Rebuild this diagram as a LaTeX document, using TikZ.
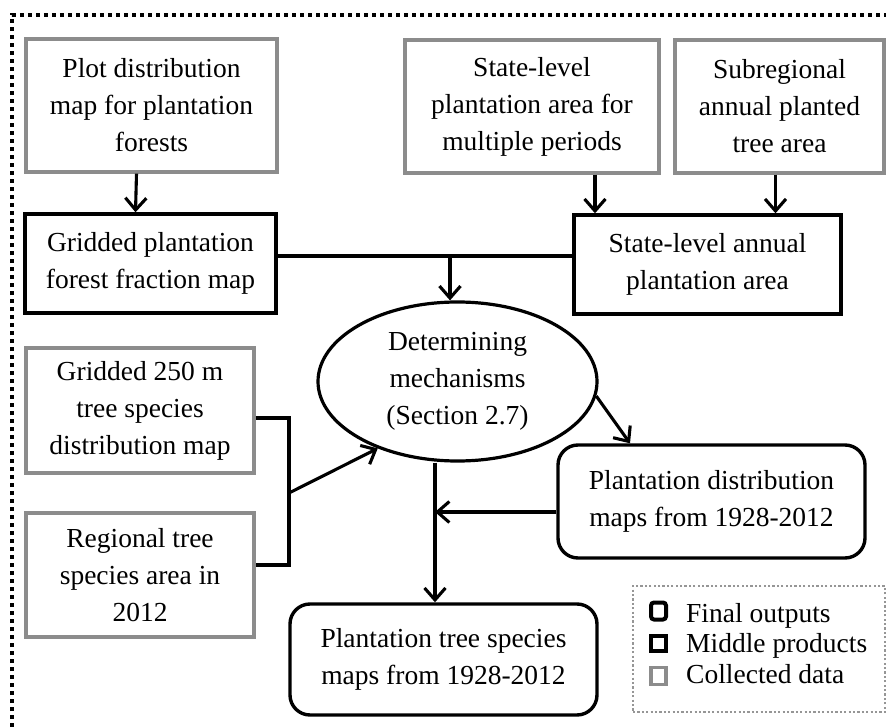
\documentclass[tikz,border=0pt]{standalone}
\usepackage{fontspec}
\setmainfont{Liberation Serif}
\usetikzlibrary{arrows.meta,shapes.geometric,calc}
\definecolor{dgray}{RGB}{140,140,140}
\definecolor{lgray}{RGB}{150,150,150}
\begin{document}
\begin{tikzpicture}[x=1pt,y=-1pt,
  txt/.style={font=\fontsize{27.5}{37}\selectfont, align=center, inner sep=0pt},
  coll/.style={txt, draw=dgray, line width=3.2pt, rectangle},
  mid/.style={txt, draw=black, line width=3.4pt, rectangle},
  fin/.style={txt, draw=black, line width=3.4pt, rectangle, rounded corners=20pt},
  conn/.style={line width=3.1pt, draw=black},
  arr/.style={conn, -{Straight Barb[length=12pt,width=21pt,line width=3.1pt]}},
  legtxt/.style={font=\fontsize{27.5}{32}\selectfont, inner sep=0pt, anchor=base west},
]
\useasboundingbox (0,0) rectangle (886,727);

% outer dotted frame
\coordinate (fbl) at (12,727);
\coordinate (ftl) at (12,15);
\coordinate (ftr) at (886,15);
\draw[line width=4pt, dash pattern=on 4pt off 4pt] (fbl) -- (ftl) -- (ftr);

% collected data
\node[coll, minimum width=251pt, minimum height=133pt] (plot) at (151.5,105.5)
  {Plot distribution\\map for plantation\\forests};
\node[coll, minimum width=254pt, minimum height=133pt] (statep) at (532,106.5)
  {State-level\\plantation area for\\multiple periods};
\node[coll, minimum width=209pt, minimum height=133pt] (subreg) at (779.5,106.5)
  {Subregional\\annual planted\\tree area};
\node[coll, minimum width=228pt, minimum height=125pt] (g250) at (140,410.5)
  {Gridded 250 m\\tree species\\distribution map};
\node[coll, minimum width=228pt, minimum height=124pt] (regional) at (140,575)
  {Regional tree\\species area in\\2012};

% middle products
\node[mid, minimum width=251pt, minimum height=99pt] (gridded) at (150.5,263.5)
  {Gridded plantation\\forest fraction map};
\node[mid, minimum width=267pt, minimum height=99pt] (statea) at (707.5,264.5)
  {State-level annual\\plantation area};

% mechanism
\node[txt, draw, ellipse, line width=3.2pt, minimum width=279pt, minimum height=159pt] (mech) at (457.5,381.5)
  {Determining\\mechanisms\\(Section 2.7)};

% final outputs
\node[fin, minimum width=307pt, minimum height=113pt] (pdist) at (711.5,501.5)
  {Plantation distribution\\maps from 1928-2012};
\node[fin, minimum width=307pt, minimum height=111pt] (tplant) at (443.5,659.5)
  {Plantation tree species\\maps from 1928-2012};

% connectors
\draw[arr] ([xshift=-15pt]plot.south) -- ([xshift=-15pt]gridded.north);
\draw[arr] ([xshift=63pt]statep.south) -- ([xshift=63pt]statep.south |- statea.north);
\draw[arr] ([xshift=-4pt]subreg.south) -- ([xshift=-4pt]subreg.south |- statea.north);
\coordinate (j1) at (450,256);
\draw[conn] ([yshift=7.5pt]gridded.east) -- ([yshift=7.5pt]gridded.east -| statea.west);
\draw[arr] (j1) -- (j1 |- mech.north);

\coordinate (bx) at (289,493);
\draw[conn] ([yshift=-7.5pt]g250.east) -| (bx) |- ([yshift=10pt]regional.east);
\draw[arr] (bx) -- (mech.220);

\draw[arr] (mech.354) -- ([xshift=-81.5pt]pdist.north);

\coordinate (vx) at (435,512);
\draw[arr] (vx |- mech.south) -- (vx |- tplant.north);
\draw[arr] ([yshift=-10.5pt]pdist.west) -- (vx);

% legend
\node[draw=lgray, line width=2.2pt, dash pattern=on 2.2pt off 2.2pt, minimum width=252pt, minimum height=126pt, inner sep=0pt] (legend) at (759,649) {};
\node[draw=black, line width=4pt, rounded corners=3pt, minimum width=15pt, minimum height=17pt, inner sep=0pt] (lg1) at (658.5,611) {};
\node[draw=black, line width=4pt, minimum width=15pt, minimum height=15pt, inner sep=0pt] (lg2) at (658.5,643) {};
\node[draw=dgray, line width=3.6pt, minimum width=15pt, minimum height=17pt, inner sep=0pt] (lg3) at (658.5,676) {};
\node[legtxt] (lt1) at (686,622) {Final outputs};
\node[legtxt] (lt2) at (686,652) {Middle products};
\node[legtxt] (lt3) at (686,683) {Collected data};
\end{tikzpicture}
\end{document}
